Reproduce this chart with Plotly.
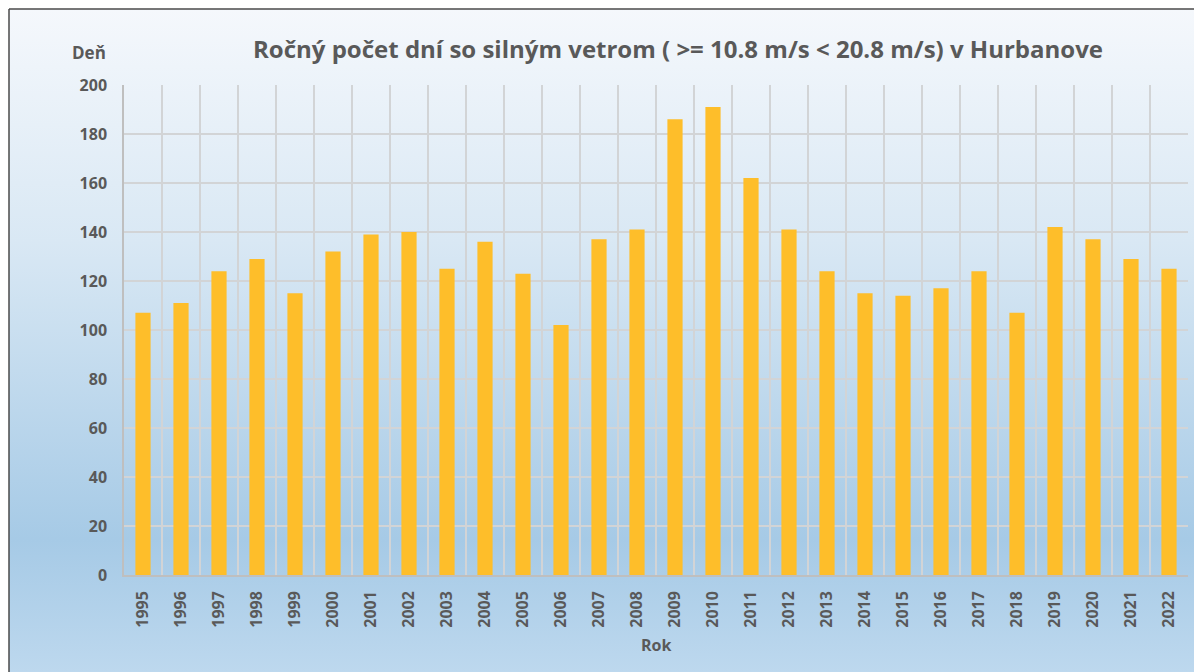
import base64
import plotly.graph_objects as go

# Annual number of days with strong wind, Hurbanovo
years = [str(y) for y in range(1995, 2023)]
days = [107, 111, 124, 129, 115, 132, 139, 140, 125, 136, 123, 102, 137, 141,
        186, 191, 162, 141, 124, 115, 114, 117, 124, 107, 142, 137, 129, 125]

y_ticks = list(range(0, 201, 20))

title_text = "Ročný počet dní so silným vetrom ( >= 10.8 m/s < 20.8 m/s) v Hurbanove"
y_title = "Deň"
x_title = "Rok"

W, H = 1194, 672
ML, MR, MT, MB = 124, 6, 85, 97
PW, PH = W - ML - MR, H - MT - MB


def px(x):
    return (x - ML) / PW


def py(y):
    return (H - MB - y) / PH


FONT = "Open Sans"
TXT = "#595959"

# vertical gradient for the chart area background
svg = (
    '<svg xmlns="http://www.w3.org/2000/svg" width="100" height="100" preserveAspectRatio="none">'
    '<defs><linearGradient id="g" x1="0" y1="0" x2="0" y2="1">'
    '<stop offset="0" stop-color="#f5f8fc"/>'
    '<stop offset="0.35" stop-color="#d9e8f4"/>'
    '<stop offset="0.80" stop-color="#a6cae6"/>'
    '<stop offset="1" stop-color="#bdd8ee"/>'
    '</linearGradient></defs>'
    '<rect width="100" height="100" fill="url(#g)"/></svg>'
)
bg_uri = "data:image/svg+xml;base64," + base64.b64encode(svg.encode()).decode()

fig = go.Figure(
    go.Bar(
        x=years,
        y=days,
        marker=dict(color="#FEBE2A", line=dict(width=0)),
        hoverinfo="x+y",
    )
)

fig.update_layout(
    width=W,
    height=H,
    margin=dict(l=ML, r=MR, t=MT, b=MB),
    paper_bgcolor="white",
    plot_bgcolor="rgba(0,0,0,0)",
    bargap=0.6,
    showlegend=False,
    font=dict(family=FONT, color=TXT),
    title=dict(
        text="<b>" + title_text + "</b>",
        x=678 / W,
        xanchor="center",
        xref="container",
        y=1 - 50 / H,
        yanchor="middle",
        yref="container",
        font=dict(size=24, color=TXT, family=FONT),
    ),
    images=[
        dict(
            source=bg_uri,
            xref="paper",
            yref="paper",
            x=px(9),
            y=py(9),
            sizex=(W - 9) / PW,
            sizey=(H - 9) / PH,
            xanchor="left",
            yanchor="top",
            sizing="stretch",
            layer="below",
        )
    ],
    shapes=[
        dict(type="line", xref="paper", yref="paper",
             x0=px(9), x1=px(W + 5), y0=py(9), y1=py(9),
             line=dict(color="#4a4a4a", width=1.5)),
        dict(type="line", xref="paper", yref="paper",
             x0=px(9), x1=px(9), y0=py(9), y1=py(H + 5),
             line=dict(color="#4a4a4a", width=1.5)),
    ],
    annotations=[
        dict(text="<b>" + y_title + "</b>", xref="paper", yref="paper",
             x=px(89), y=py(52), xanchor="center", yanchor="middle",
             showarrow=False, font=dict(size=17, color=TXT, family=FONT)),
        dict(text="<b>" + x_title + "</b>", xref="paper", yref="paper",
             x=px(656), y=py(645), xanchor="center", yanchor="middle",
             showarrow=False, font=dict(size=16, color=TXT, family=FONT)),
    ],
)

fig.update_xaxes(
    type="category",
    range=[-0.5, len(years) - 0.5],
    tickson="boundaries",
    showgrid=True,
    gridcolor="#d2d4d6",
    gridwidth=1.5,
    showline=True,
    linecolor="#bfbfbf",
    linewidth=1.5,
    ticks="",
    tickangle=-90,
    ticklabelstandoff=8,
    tickfont=dict(size=16, color=TXT, family=FONT, weight="bold"),
)

fig.update_yaxes(
    range=[0, 200],
    tickvals=y_ticks,
    showgrid=True,
    gridcolor="#d2d4d6",
    gridwidth=1.5,
    zeroline=False,
    showline=True,
    linecolor="#bfbfbf",
    linewidth=1.5,
    ticks="",
    ticklabelstandoff=12,
    tickfont=dict(size=16, color=TXT, family=FONT, weight="bold"),
)

fig.write_html("out.html")
